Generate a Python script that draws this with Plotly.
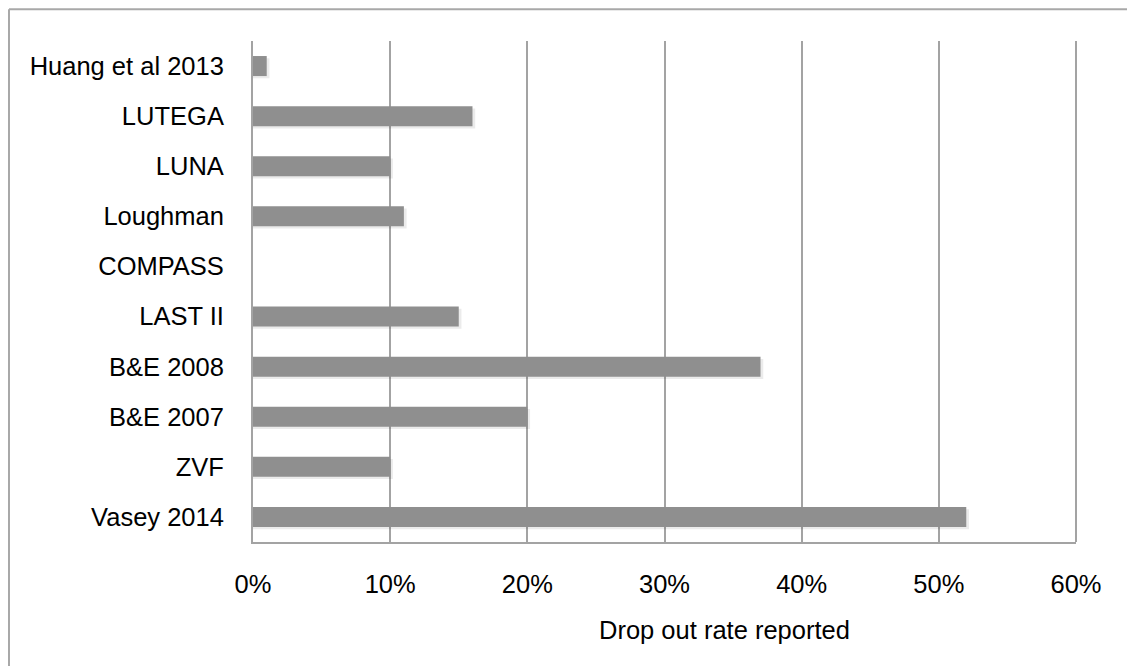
import plotly.graph_objects as go

studies = ["Huang et al 2013", "LUTEGA", "LUNA", "Loughman", "COMPASS",
           "LAST II", "B&E 2008", "B&E 2007", "ZVF", "Vasey 2014"]
dropout = [0.01, 0.16, 0.10, 0.11, 0.0, 0.15, 0.37, 0.20, 0.10, 0.52]
x_ticks = [0, 0.1, 0.2, 0.3, 0.4, 0.5, 0.6]
x_tick_labels = ["0%", "10%", "20%", "30%", "40%", "50%", "60%"]
x_title = "Drop out rate reported"

FONT = "Liberation Sans, Arial, sans-serif"
FS = 25.5
BAR_W = 0.4

fig = go.Figure()
# soft drop shadow behind bars
fig.add_trace(go.Bar(
    y=studies, x=[v + 0.002 if v > 0 else 0 for v in dropout], orientation="h",
    marker=dict(color="rgba(0,0,0,0.08)", line=dict(width=0)),
    width=BAR_W, offset=-BAR_W / 2 + 0.045, hoverinfo="skip",
))
fig.add_trace(go.Bar(
    y=studies, x=dropout, orientation="h",
    marker=dict(color="#8f8f8f", line=dict(width=0)),
    width=BAR_W, offset=-BAR_W / 2,
    hoverinfo="x+y",
))

frame = dict(color="#a8a8a8", width=2)
fig.update_layout(
    width=1127, height=658,
    margin=dict(l=245, r=59, t=33, b=124),
    barmode="overlay",
    paper_bgcolor="white", plot_bgcolor="white",
    showlegend=False,
    font=dict(family=FONT, size=FS, color="black"),
    xaxis=dict(
        range=[0, 0.6], tickvals=x_ticks, ticktext=x_tick_labels,
        showgrid=True, gridcolor="#a3a3a3", gridwidth=1.5,
        showline=True, linecolor="#a3a3a3", linewidth=2, mirror=False,
        zeroline=False, ticks="", ticklabelstandoff=18,
        tickfont=dict(family=FONT, size=FS),
    ),
    yaxis=dict(
        categoryorder="array", categoryarray=studies, autorange="reversed",
        showgrid=False, showline=True, linecolor="#a3a3a3", linewidth=2,
        ticks="", ticklabelstandoff=22,
        tickfont=dict(family=FONT, size=FS),
    ),
    shapes=[
        dict(type="line", xref="paper", yref="paper", x0=1, x1=1, y0=0, y1=1,
             line=dict(color="#a3a3a3", width=2)),
        # outer frame: top and left edges only
        dict(type="line", xref="paper", yref="paper",
             x0=-0.2965, x1=1.2, y0=1.0635, y1=1.0635, line=frame),
        dict(type="line", xref="paper", yref="paper",
             x0=-0.2965, x1=-0.2965, y0=-0.35, y1=1.0635, line=frame),
    ],
    annotations=[
        dict(text=x_title, xref="paper", yref="paper", x=0.573, y=-0.1756,
             showarrow=False, xanchor="center", yanchor="middle",
             font=dict(family=FONT, size=FS, color="black")),
    ],
)

fig.write_html("out.html")
